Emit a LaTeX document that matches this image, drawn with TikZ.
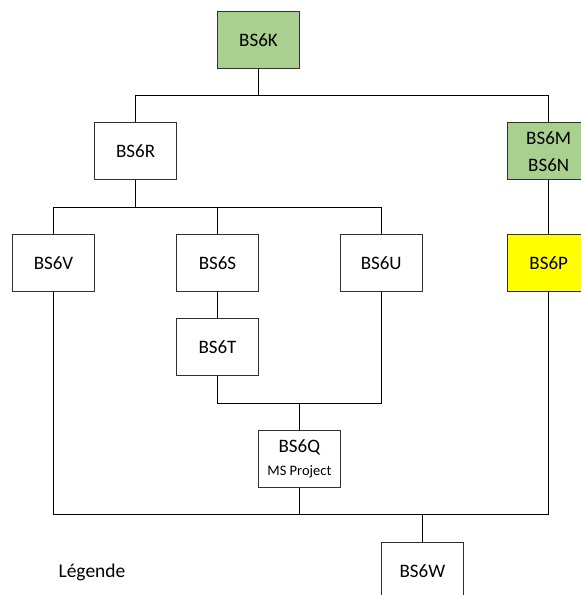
\documentclass[tikz,border=0pt]{standalone}
\usepackage{fontspec}
\setmainfont{Carlito}
\definecolor{boxgreen}{HTML}{A9D08E}
\definecolor{boxyellow}{HTML}{FFFF00}
\definecolor{edge}{HTML}{303030}
\begin{document}
\begin{tikzpicture}[x=1pt,y=1pt,
  wbs/.style={draw=edge,line width=0.9pt,fill=white,minimum width=82pt,minimum height=57pt,inner sep=0pt,align=center,font=\fontsize{19}{27}\selectfont},
  conn/.style={draw=black,line width=0.9pt}]
\useasboundingbox (0,0) rectangle (581,-595);
\clip (0,0) rectangle (581,-595);
\coordinate (b1) at (0,-95.7);
\coordinate (b2) at (0,-207);
\coordinate (b3) at (0,-403);
\coordinate (b4) at (0,-514.7);
\node[wbs,fill=boxgreen] (K) at (258.5,-39.7) {BS6K};
\node[wbs] (R) at (135.6,-151.3) {BS6R};
\node[wbs,fill=boxgreen] (MN) at (548.7,-151.3) {BS6M\\BS6N};
\node[wbs] (V) at (53.5,-263) {BS6V};
\node[wbs] (S) at (217.5,-263) {BS6S};
\node[wbs] (U) at (381.2,-263) {BS6U};
\node[wbs,fill=boxyellow] (P) at (548.7,-263) {BS6P};
\node[wbs] (T) at (217.5,-347.3) {BS6T};
\node[wbs] (Q) at (299.4,-459) {BS6Q\\[-4pt]{\fontsize{14.5}{16}\selectfont MS Project}};
\node[wbs] (W) at (422.4,-570.7) {BS6W};
\node[font=\fontsize{19.5}{22}\selectfont,inner sep=0pt] (L) at (92,-572) {Légende};
\draw[conn] (K.south) -- (K |- b1);
\draw[conn] (R.north) -- (R |- b1) -- (MN |- b1) -- (MN.north);
\draw[conn] (MN.south) -- (P.north);
\draw[conn] (R.south) -- (R |- b2);
\draw[conn] (V.north) -- (V |- b2) -- (U |- b2) -- (U.north);
\draw[conn] (S.north) -- (S |- b2);
\draw[conn] (S.south) -- (T.north);
\draw[conn] (T.south) -- (T |- b3) -- (U |- b3) -- (U.south);
\draw[conn] (Q.north) -- (Q |- b3);
\draw[conn] (V.south) -- (V |- b4) -- (P |- b4) -- (P.south);
\draw[conn] (Q.south) -- (Q |- b4);
\draw[conn] (W.north) -- (W |- b4);
\end{tikzpicture}
\end{document}
